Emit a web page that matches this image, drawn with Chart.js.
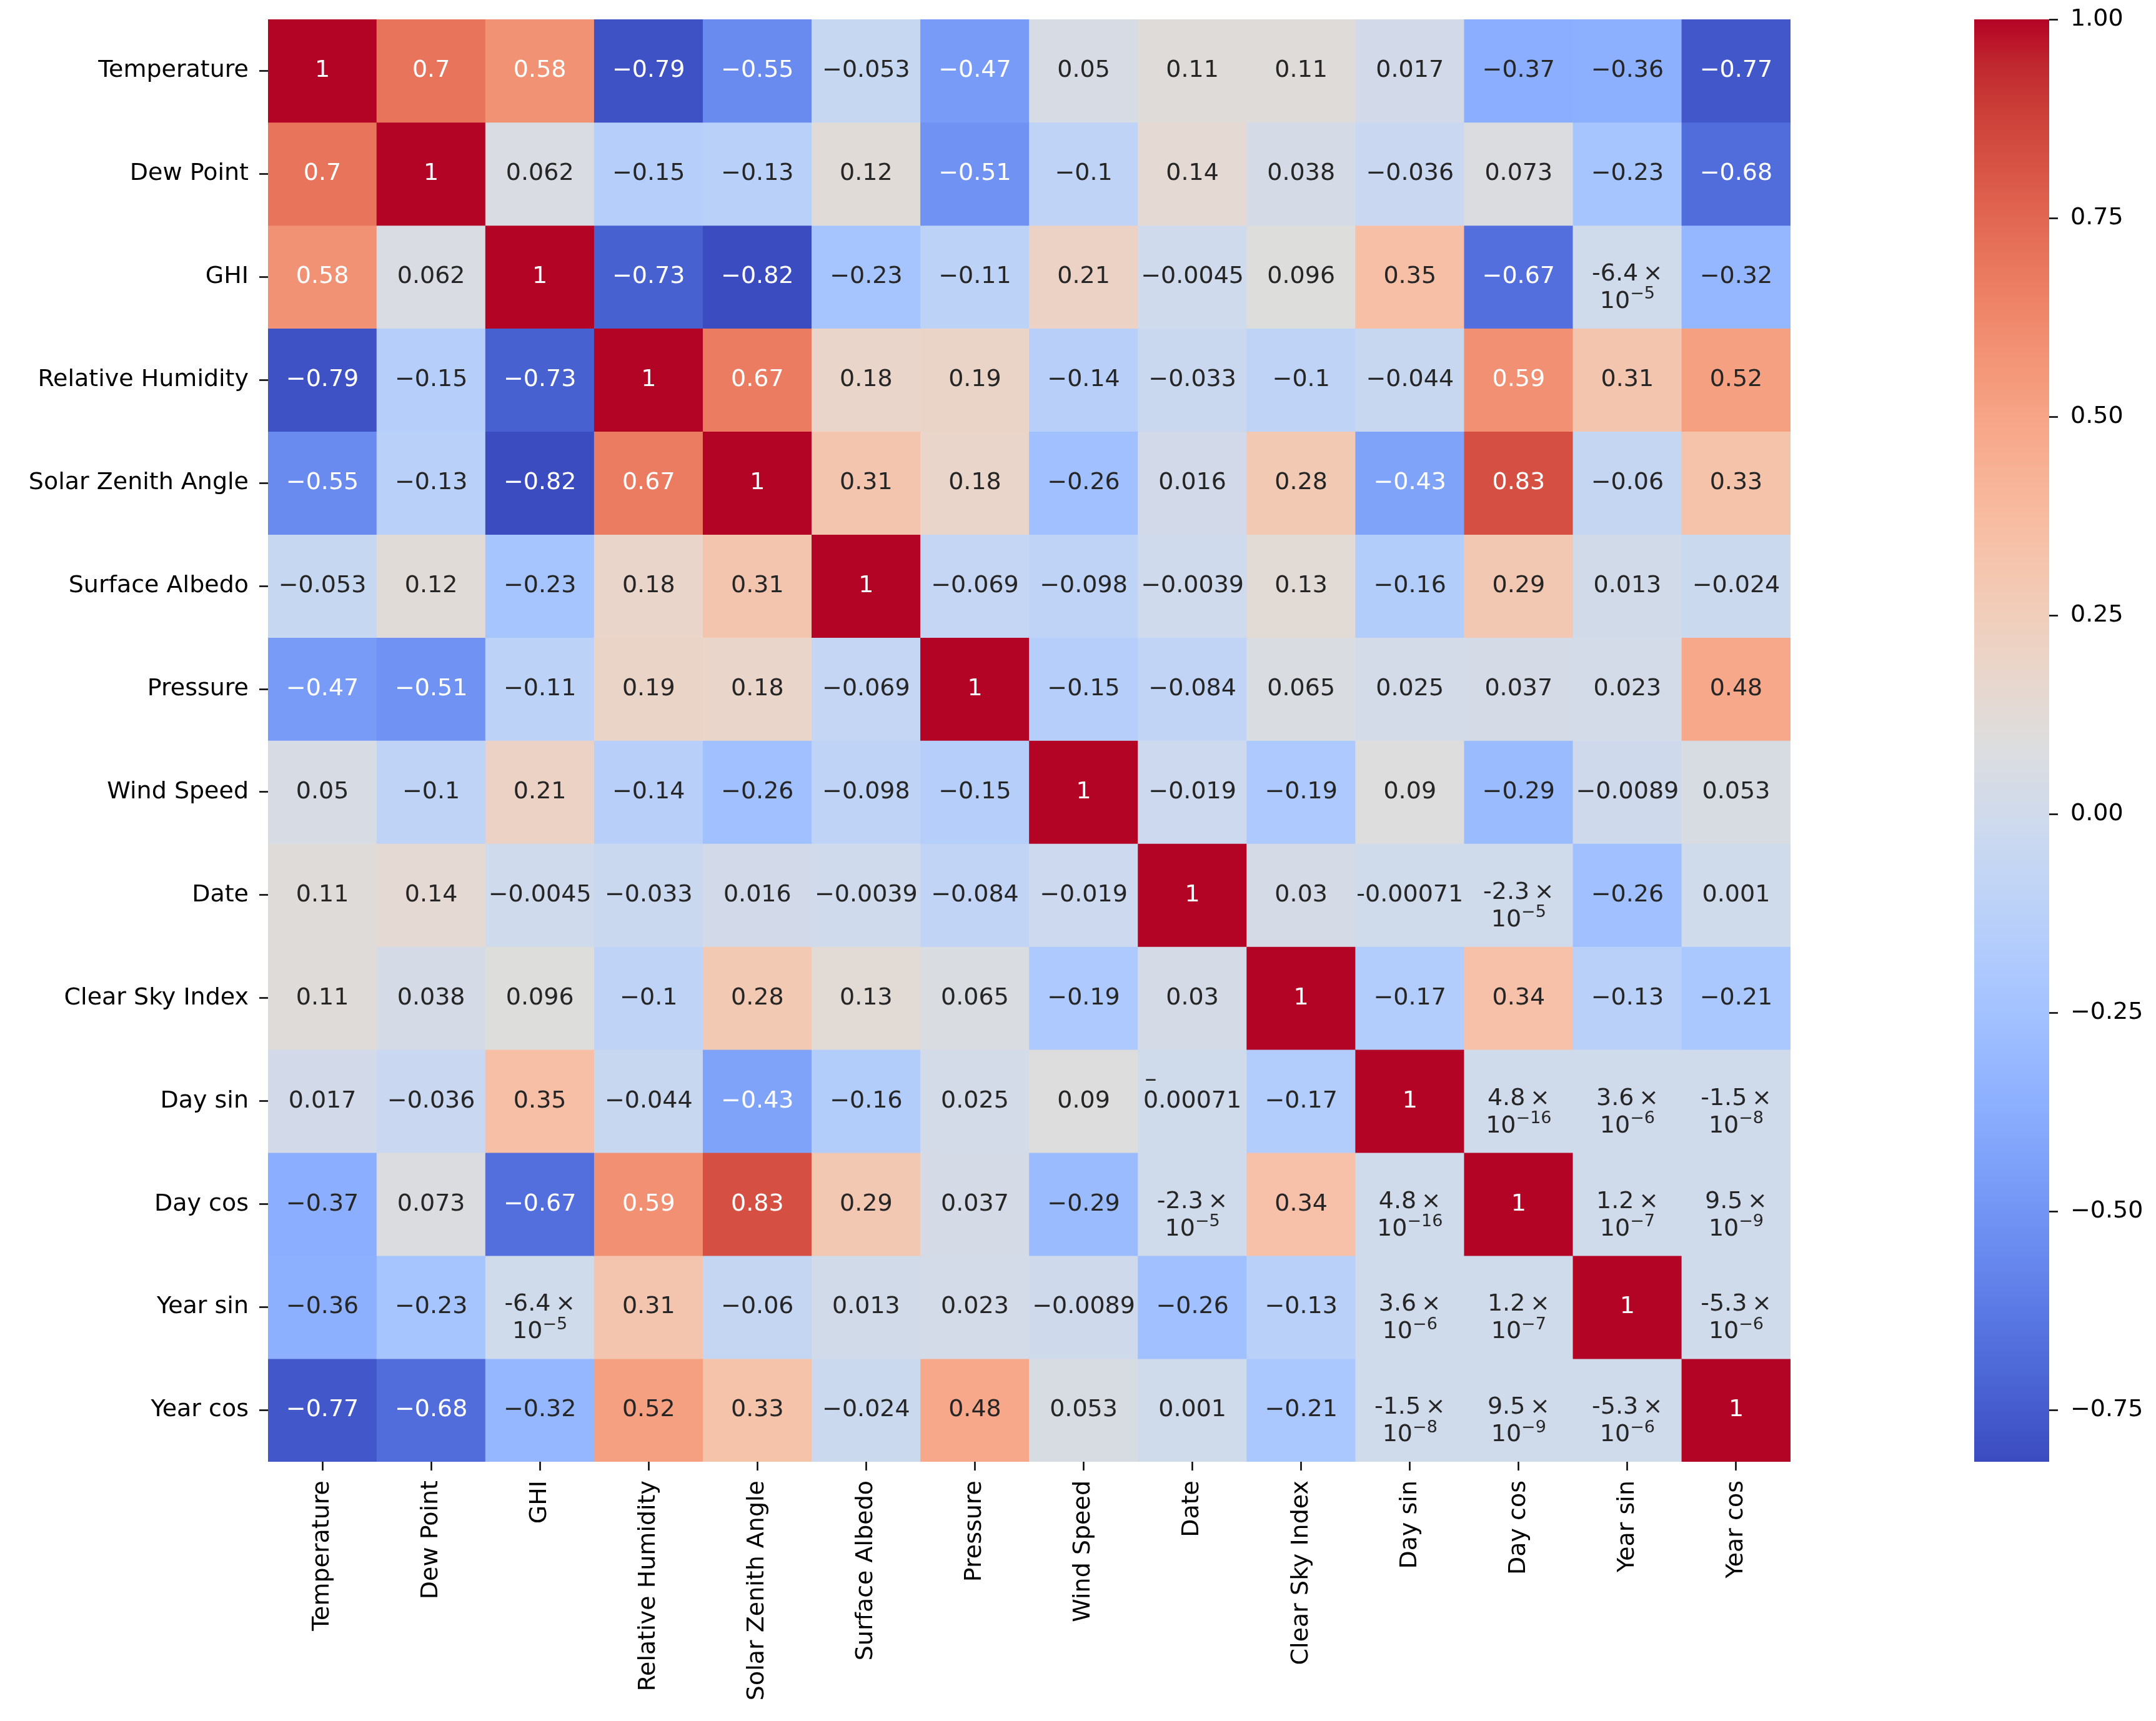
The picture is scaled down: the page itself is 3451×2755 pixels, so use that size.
<!DOCTYPE html>
<html>
<head>
<meta charset="utf-8">
<title>Correlation heatmap</title>
<script src="https://cdn.jsdelivr.net/npm/chart.js@4.4.1/dist/chart.umd.min.js"></script>
<style>
  html, body { margin: 0; padding: 0; background: #ffffff; }
  #heat { position: absolute; left: 0; top: 0; }
  #cbar { position: absolute; left: 3000px; top: 0; }
</style>
</head>
<body>
<canvas id="heat" width="3000" height="2755" style="width:3000px;height:2755px"></canvas>
<canvas id="cbar" width="451" height="2755" style="width:451px;height:2755px"></canvas>
<script>
// variables (same order on both axes)
const variables = ["Temperature", "Dew Point", "GHI", "Relative Humidity", "Solar Zenith Angle",
  "Surface Albedo", "Pressure", "Wind Speed", "Date", "Clear Sky Index",
  "Day sin", "Day cos", "Year sin", "Year cos"];

// one row of the correlation matrix per variable
const temperature   = [1, 0.7, 0.58, -0.79, -0.55, -0.053, -0.47, 0.05, 0.11, 0.11, 0.017, -0.37, -0.36, -0.77];
const dewPoint      = [0.7, 1, 0.062, -0.15, -0.13, 0.12, -0.51, -0.1, 0.14, 0.038, -0.036, 0.073, -0.23, -0.68];
const ghi           = [0.58, 0.062, 1, -0.73, -0.82, -0.23, -0.11, 0.21, -0.0045, 0.096, 0.35, -0.67, -6.4e-5, -0.32];
const relHumidity   = [-0.79, -0.15, -0.73, 1, 0.67, 0.18, 0.19, -0.14, -0.033, -0.1, -0.044, 0.59, 0.31, 0.52];
const solarZenith   = [-0.55, -0.13, -0.82, 0.67, 1, 0.31, 0.18, -0.26, 0.016, 0.28, -0.43, 0.83, -0.06, 0.33];
const surfaceAlbedo = [-0.053, 0.12, -0.23, 0.18, 0.31, 1, -0.069, -0.098, -0.0039, 0.13, -0.16, 0.29, 0.013, -0.024];
const pressure      = [-0.47, -0.51, -0.11, 0.19, 0.18, -0.069, 1, -0.15, -0.084, 0.065, 0.025, 0.037, 0.023, 0.48];
const windSpeed     = [0.05, -0.1, 0.21, -0.14, -0.26, -0.098, -0.15, 1, -0.019, -0.19, 0.09, -0.29, -0.0089, 0.053];
const dateRow       = [0.11, 0.14, -0.0045, -0.033, 0.016, -0.0039, -0.084, -0.019, 1, 0.03, -0.00071, -2.3e-5, -0.26, 0.001];
const clearSky      = [0.11, 0.038, 0.096, -0.1, 0.28, 0.13, 0.065, -0.19, 0.03, 1, -0.17, 0.34, -0.13, -0.21];
const daySin        = [0.017, -0.036, 0.35, -0.044, -0.43, -0.16, 0.025, 0.09, -0.00071, -0.17, 1, 4.8e-16, 3.6e-6, -1.5e-8];
const dayCos        = [-0.37, 0.073, -0.67, 0.59, 0.83, 0.29, 0.037, -0.29, -2.3e-5, 0.34, 4.8e-16, 1, 1.2e-7, 9.5e-9];
const yearSin       = [-0.36, -0.23, -6.4e-5, 0.31, -0.06, 0.013, 0.023, -0.0089, -0.26, -0.13, 3.6e-6, 1.2e-7, 1, -5.3e-6];
const yearCos       = [-0.77, -0.68, -0.32, 0.52, 0.33, -0.024, 0.48, 0.053, 0.001, -0.21, -1.5e-8, 9.5e-9, -5.3e-6, 1];

const corrRows = [temperature, dewPoint, ghi, relHumidity, solarZenith, surfaceAlbedo, pressure,
  windSpeed, dateRow, clearSky, daySin, dayCos, yearSin, yearCos];

// cells (row, column) whose over-wide label has its minus sign wrapped onto a line above
const wrapMinusCells = [[10, 8]];

// colour scale range and colour bar ticks
const colorMin = -0.815;
const colorMax = 1.0;
const colorbarTicks = [-0.75, -0.5, -0.25, 0, 0.25, 0.5, 0.75, 1.0];

// coolwarm colormap (33 control points)
const coolwarm = [
  [59,76,192],[68,90,204],[77,104,215],[87,117,225],[98,130,234],[108,142,241],[119,154,247],[130,165,251],
  [141,176,254],[152,185,255],[163,194,255],[174,201,253],[184,208,249],[194,213,244],[204,217,238],[213,219,230],
  [221,221,221],[229,216,209],[236,211,197],[241,204,184],[245,196,172],[247,187,160],[247,177,148],[247,166,137],
  [244,154,123],[241,141,112],[236,127,99],[229,112,88],[222,96,77],[213,80,66],[203,62,56],[192,40,47],[180,4,38]
];

const fontFamily = "'DejaVu Sans', sans-serif";
const fontSize = 38;
Chart.defaults.font.family = fontFamily;
Chart.defaults.color = "#000000";

function colorAt(v) {
  let t = (v - colorMin) / (colorMax - colorMin);
  t = Math.max(0, Math.min(1, t));
  const pos = t * (coolwarm.length - 1);
  const k = Math.min(Math.floor(pos), coolwarm.length - 2);
  const f = pos - k;
  const a = coolwarm[k], b = coolwarm[k + 1];
  return [0, 1, 2].map(c => Math.round(a[c] + (b[c] - a[c]) * f));
}

function rgbStr(c) {
  return `rgb(${c[0]},${c[1]},${c[2]})`;
}

// same rule seaborn uses to pick light/dark annotation text
function textColorFor(c) {
  const lin = c.map(x => {
    x = x / 255;
    return x <= 0.03928 ? x / 12.92 : Math.pow((x + 0.055) / 1.055, 2.4);
  });
  const lum = 0.2126 * lin[0] + 0.7152 * lin[1] + 0.0722 * lin[2];
  return lum > 0.408 ? "#262626" : "#ffffff";
}

function drawCellLabel(ctx, v, cx, cy, cellW, wrapMinus) {
  ctx.textBaseline = "middle";
  ctx.font = `${fontSize}px ${fontFamily}`;
  if (v !== 0 && Math.abs(v) < 1e-4) {
    // scientific notation on two lines
    const e = Math.floor(Math.log10(Math.abs(v)));
    const m = (v / Math.pow(10, e)).toFixed(1);
    ctx.textAlign = "center";
    ctx.fillText(m + "\u2009\u00d7", cx, cy - 4);
    const base = "10";
    const exp = (e < 0 ? "\u2212" : "") + Math.abs(e);
    const wBase = ctx.measureText(base).width;
    ctx.font = `${Math.round(fontSize * 0.72)}px ${fontFamily}`;
    const wExp = ctx.measureText(exp).width;
    const x0 = cx - (wBase + wExp) / 2;
    ctx.textAlign = "left";
    ctx.fillText(exp, x0 + wBase, cy + 40 - 12);
    ctx.font = `${fontSize}px ${fontFamily}`;
    ctx.fillText(base, x0, cy + 40);
    return;
  }
  const s = String(Number(v.toPrecision(2)));
  const txt = s.replace("-", "\u2212");
  ctx.textAlign = "center";
  if (ctx.measureText(txt).width > cellW - 6 && v < 0) {
    if (wrapMinus) {
      // minus sign wraps onto its own line
      ctx.fillText("\u2013", cx - ctx.measureText(s.slice(1)).width / 2 + 12, cy - 34);
      ctx.fillText(s.slice(1), cx, cy);
    } else {
      ctx.fillText(s, cx, cy);
    }
  } else {
    ctx.fillText(txt, cx, cy);
  }
}

const cellText = {
  id: "cellText",
  afterDatasetsDraw(chart) {
    const ctx = chart.ctx;
    ctx.save();
    chart.data.datasets.forEach((ds, i) => {
      const meta = chart.getDatasetMeta(i);
      meta.data.forEach((bar, j) => {
        const v = corrRows[i][j];
        const wrap = wrapMinusCells.some(c => c[0] === i && c[1] === j);
        ctx.fillStyle = textColorFor(colorAt(v));
        drawCellLabel(ctx, v, bar.x, (bar.y + bar.base) / 2, bar.width, wrap);
      });
    });
    ctx.restore();
  }
};

const tickGrid = {
  display: true,
  drawOnChartArea: false,
  offset: false,
  tickLength: 14,
  tickWidth: 2.5,
  tickColor: "#000000"
};

new Chart(document.getElementById("heat"), {
  type: "bar",
  data: {
    labels: variables,
    datasets: corrRows.map((row, i) => ({
      label: variables[i],
      data: row.map(() => 1),
      backgroundColor: row.map(v => rgbStr(colorAt(v))),
      borderWidth: 0,
      barPercentage: 1,
      categoryPercentage: 1
    }))
  },
  options: {
    responsive: false,
    animation: false,
    devicePixelRatio: 1,
    layout: { padding: { left: 0, right: 134, top: 31, bottom: 0 } },
    plugins: { legend: { display: false }, tooltip: { enabled: false } },
    scales: {
      x: {
        type: "category",
        stacked: true,
        offset: true,
        grid: tickGrid,
        border: { display: false },
        ticks: { color: "#000000", font: { size: fontSize }, padding: 16, minRotation: 90, maxRotation: 90, autoSkip: false },
        afterFit: axis => { axis.height = 415; axis.paddingLeft = 0; axis.paddingRight = 0; }
      },
      y: {
        type: "linear",
        stacked: true,
        reverse: true,
        min: 0,
        max: variables.length,
        grid: tickGrid,
        border: { display: false },
        afterBuildTicks: axis => { axis.ticks = variables.map((_, i) => ({ value: i + 0.5 })); },
        ticks: {
          color: "#000000",
          font: { size: fontSize },
          padding: 17,
          autoSkip: false,
          callback: value => variables[Math.floor(value)]
        },
        afterFit: axis => { axis.width = 429; axis.paddingTop = 0; axis.paddingBottom = 0; }
      }
    }
  },
  plugins: [cellText]
});

// colour bar
function gradientFill(context) {
  const chart = context.chart;
  if (!chart.chartArea) return "#dddddd";
  const y = chart.scales.y;
  const g = chart.ctx.createLinearGradient(0, y.getPixelForValue(colorMin), 0, y.getPixelForValue(colorMax));
  coolwarm.forEach((c, k) => g.addColorStop(k / (coolwarm.length - 1), rgbStr(c)));
  return g;
}

new Chart(document.getElementById("cbar"), {
  type: "bar",
  data: {
    labels: [""],
    datasets: [{
      data: [[colorMin, colorMax]],
      backgroundColor: gradientFill,
      borderWidth: 0,
      barPercentage: 1,
      categoryPercentage: 1
    }]
  },
  options: {
    responsive: false,
    animation: false,
    devicePixelRatio: 1,
    layout: { padding: { left: 160, right: 0, top: 31, bottom: 415 } },
    plugins: { legend: { display: false }, tooltip: { enabled: false } },
    scales: {
      x: { display: false },
      y: {
        position: "right",
        min: colorMin,
        max: colorMax,
        grid: tickGrid,
        border: { display: false },
        afterBuildTicks: axis => { axis.ticks = colorbarTicks.map(v => ({ value: v })); },
        ticks: {
          color: "#000000",
          font: { size: fontSize },
          padding: 20,
          callback: v => (v < 0 ? "\u2212" : "") + Math.abs(v).toFixed(2)
        },
        afterFit: axis => { axis.width = 171; axis.paddingTop = 0; axis.paddingBottom = 0; }
      }
    }
  }
});
</script>
</body>
</html>
